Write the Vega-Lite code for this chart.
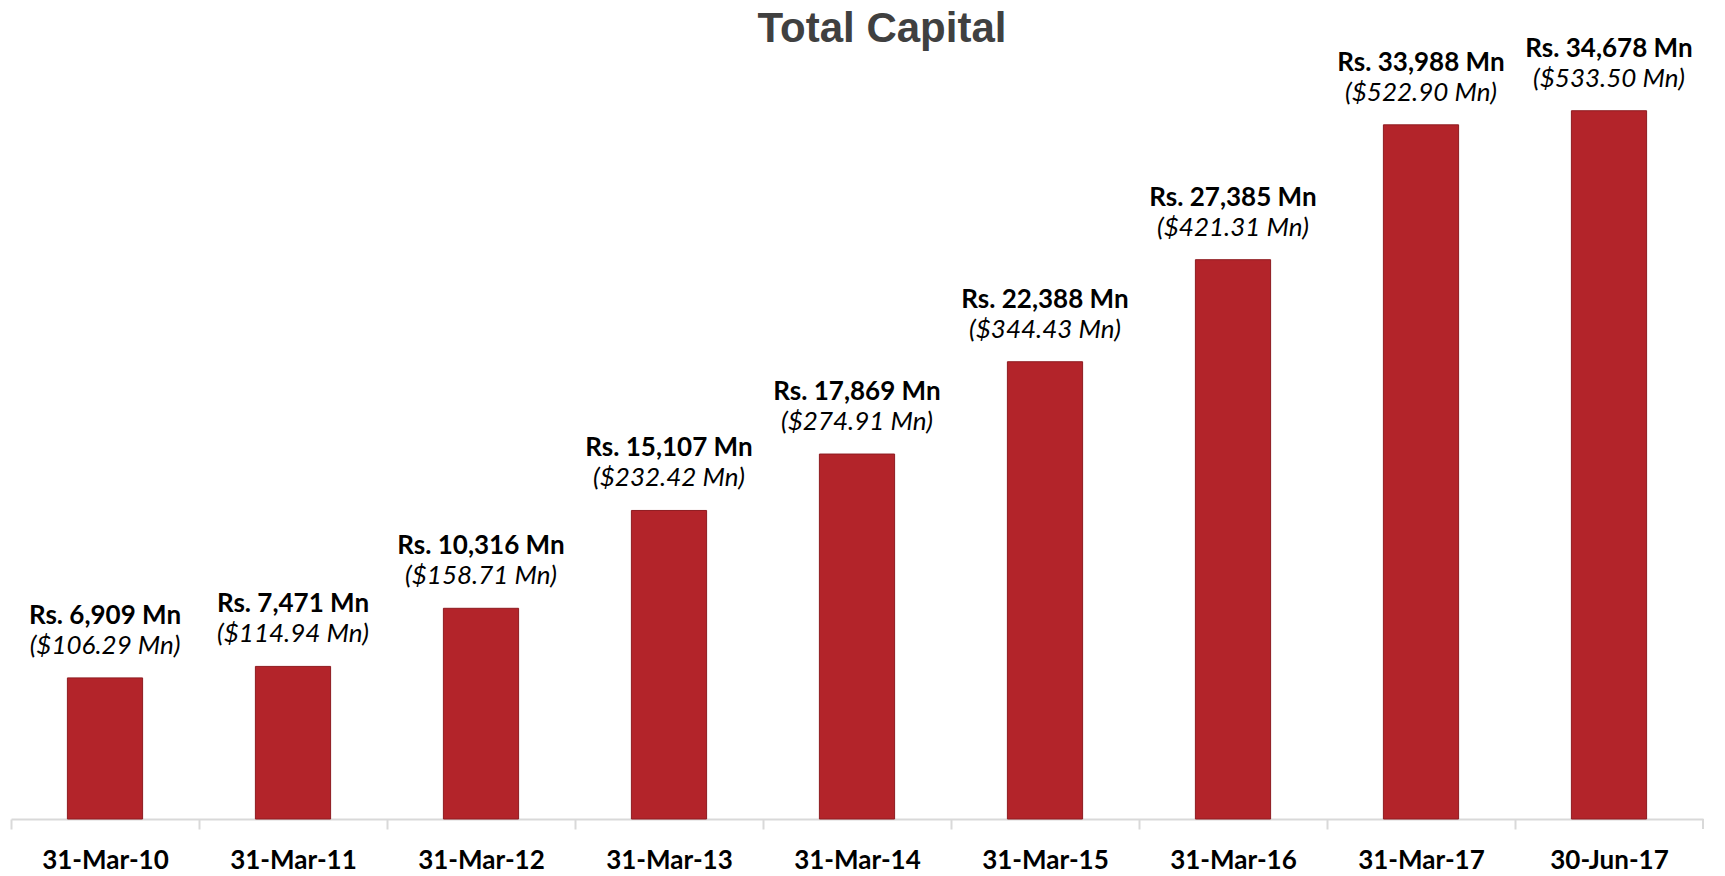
{
  "$schema": "https://vega.github.io/schema/vega-lite/v6.json",
  "autosize": "none",
  "width": 1692,
  "height": 819,
  "padding": {"left": 11, "right": 22, "top": 0, "bottom": 57},
  "background": "white",
  "title": {
    "text": "Total Capital",
    "font": "Liberation Sans Narrow, Liberation Sans, Arial",
    "fontSize": 42,
    "fontWeight": "bold",
    "color": "#404040",
    "anchor": "middle",
    "frame": "group",
    "baseline": "alphabetic",
    "offset": -84,
    "dx": 25
  },
  "data": {
    "values": [
      {"date": "31-Mar-10", "rs": 6909, "rsLabel": "Rs. 6,909 Mn", "usdLabel": "($106.29 Mn)"},
      {"date": "31-Mar-11", "rs": 7471, "rsLabel": "Rs. 7,471 Mn", "usdLabel": "($114.94 Mn)"},
      {"date": "31-Mar-12", "rs": 10316, "rsLabel": "Rs. 10,316 Mn", "usdLabel": "($158.71 Mn)"},
      {"date": "31-Mar-13", "rs": 15107, "rsLabel": "Rs. 15,107 Mn", "usdLabel": "($232.42 Mn)"},
      {"date": "31-Mar-14", "rs": 17869, "rsLabel": "Rs. 17,869 Mn", "usdLabel": "($274.91 Mn)"},
      {"date": "31-Mar-15", "rs": 22388, "rsLabel": "Rs. 22,388 Mn", "usdLabel": "($344.43 Mn)"},
      {"date": "31-Mar-16", "rs": 27385, "rsLabel": "Rs. 27,385 Mn", "usdLabel": "($421.31 Mn)"},
      {"date": "31-Mar-17", "rs": 33988, "rsLabel": "Rs. 33,988 Mn", "usdLabel": "($522.90 Mn)"},
      {"date": "30-Jun-17", "rs": 34678, "rsLabel": "Rs. 34,678 Mn", "usdLabel": "($533.50 Mn)"}
    ]
  },
  "encoding": {
    "x": {
      "field": "date",
      "type": "ordinal",
      "sort": null,
      "scale": {"paddingInner": 0.6, "paddingOuter": 0.3},
      "axis": {
        "title": null,
        "labelAngle": 0,
        "labelFont": "Lato",
        "labelFontSize": 26,
        "labelFontWeight": "bold",
        "labelColor": "#000000",
        "labelBaseline": "alphabetic",
        "labelPadding": 39,
        "labelOffset": 94,
        "domainColor": "#d9d9d9",
        "domainWidth": 2,
        "tickColor": "#d9d9d9",
        "tickWidth": 2,
        "tickSize": 10,
        "tickOffset": -94,
        "grid": false
      }
    },
    "y": {
      "field": "rs",
      "type": "quantitative",
      "scale": {"domain": [0, 40100], "nice": false},
      "axis": null
    }
  },
  "layer": [
    {
      "mark": {"type": "bar", "color": "#b3242a", "stroke": "#8e1b20", "strokeWidth": 1}
    },
    {
      "transform": [{"filter": "datum.date === '30-Jun-17'"}],
      "mark": {"type": "rule", "color": "#d9d9d9", "strokeWidth": 2, "y2Offset": 10, "clip": false},
      "encoding": {
        "x": {"field": "date", "type": "ordinal", "sort": null, "bandPosition": 1.75},
        "y": {"datum": 0},
        "y2": {"datum": 0}
      }
    },
    {
      "mark": {"type": "text", "baseline": "alphabetic", "dy": -54, "font": "Lato", "fontSize": 26, "fontWeight": "bold", "color": "#000000"},
      "encoding": {"text": {"field": "rsLabel"}}
    },
    {
      "mark": {"type": "text", "baseline": "alphabetic", "dy": -24, "font": "Lato", "fontSize": 26, "fontStyle": "italic", "color": "#000000"},
      "encoding": {"text": {"field": "usdLabel"}}
    }
  ],
  "config": {"view": {"stroke": null}}
}
